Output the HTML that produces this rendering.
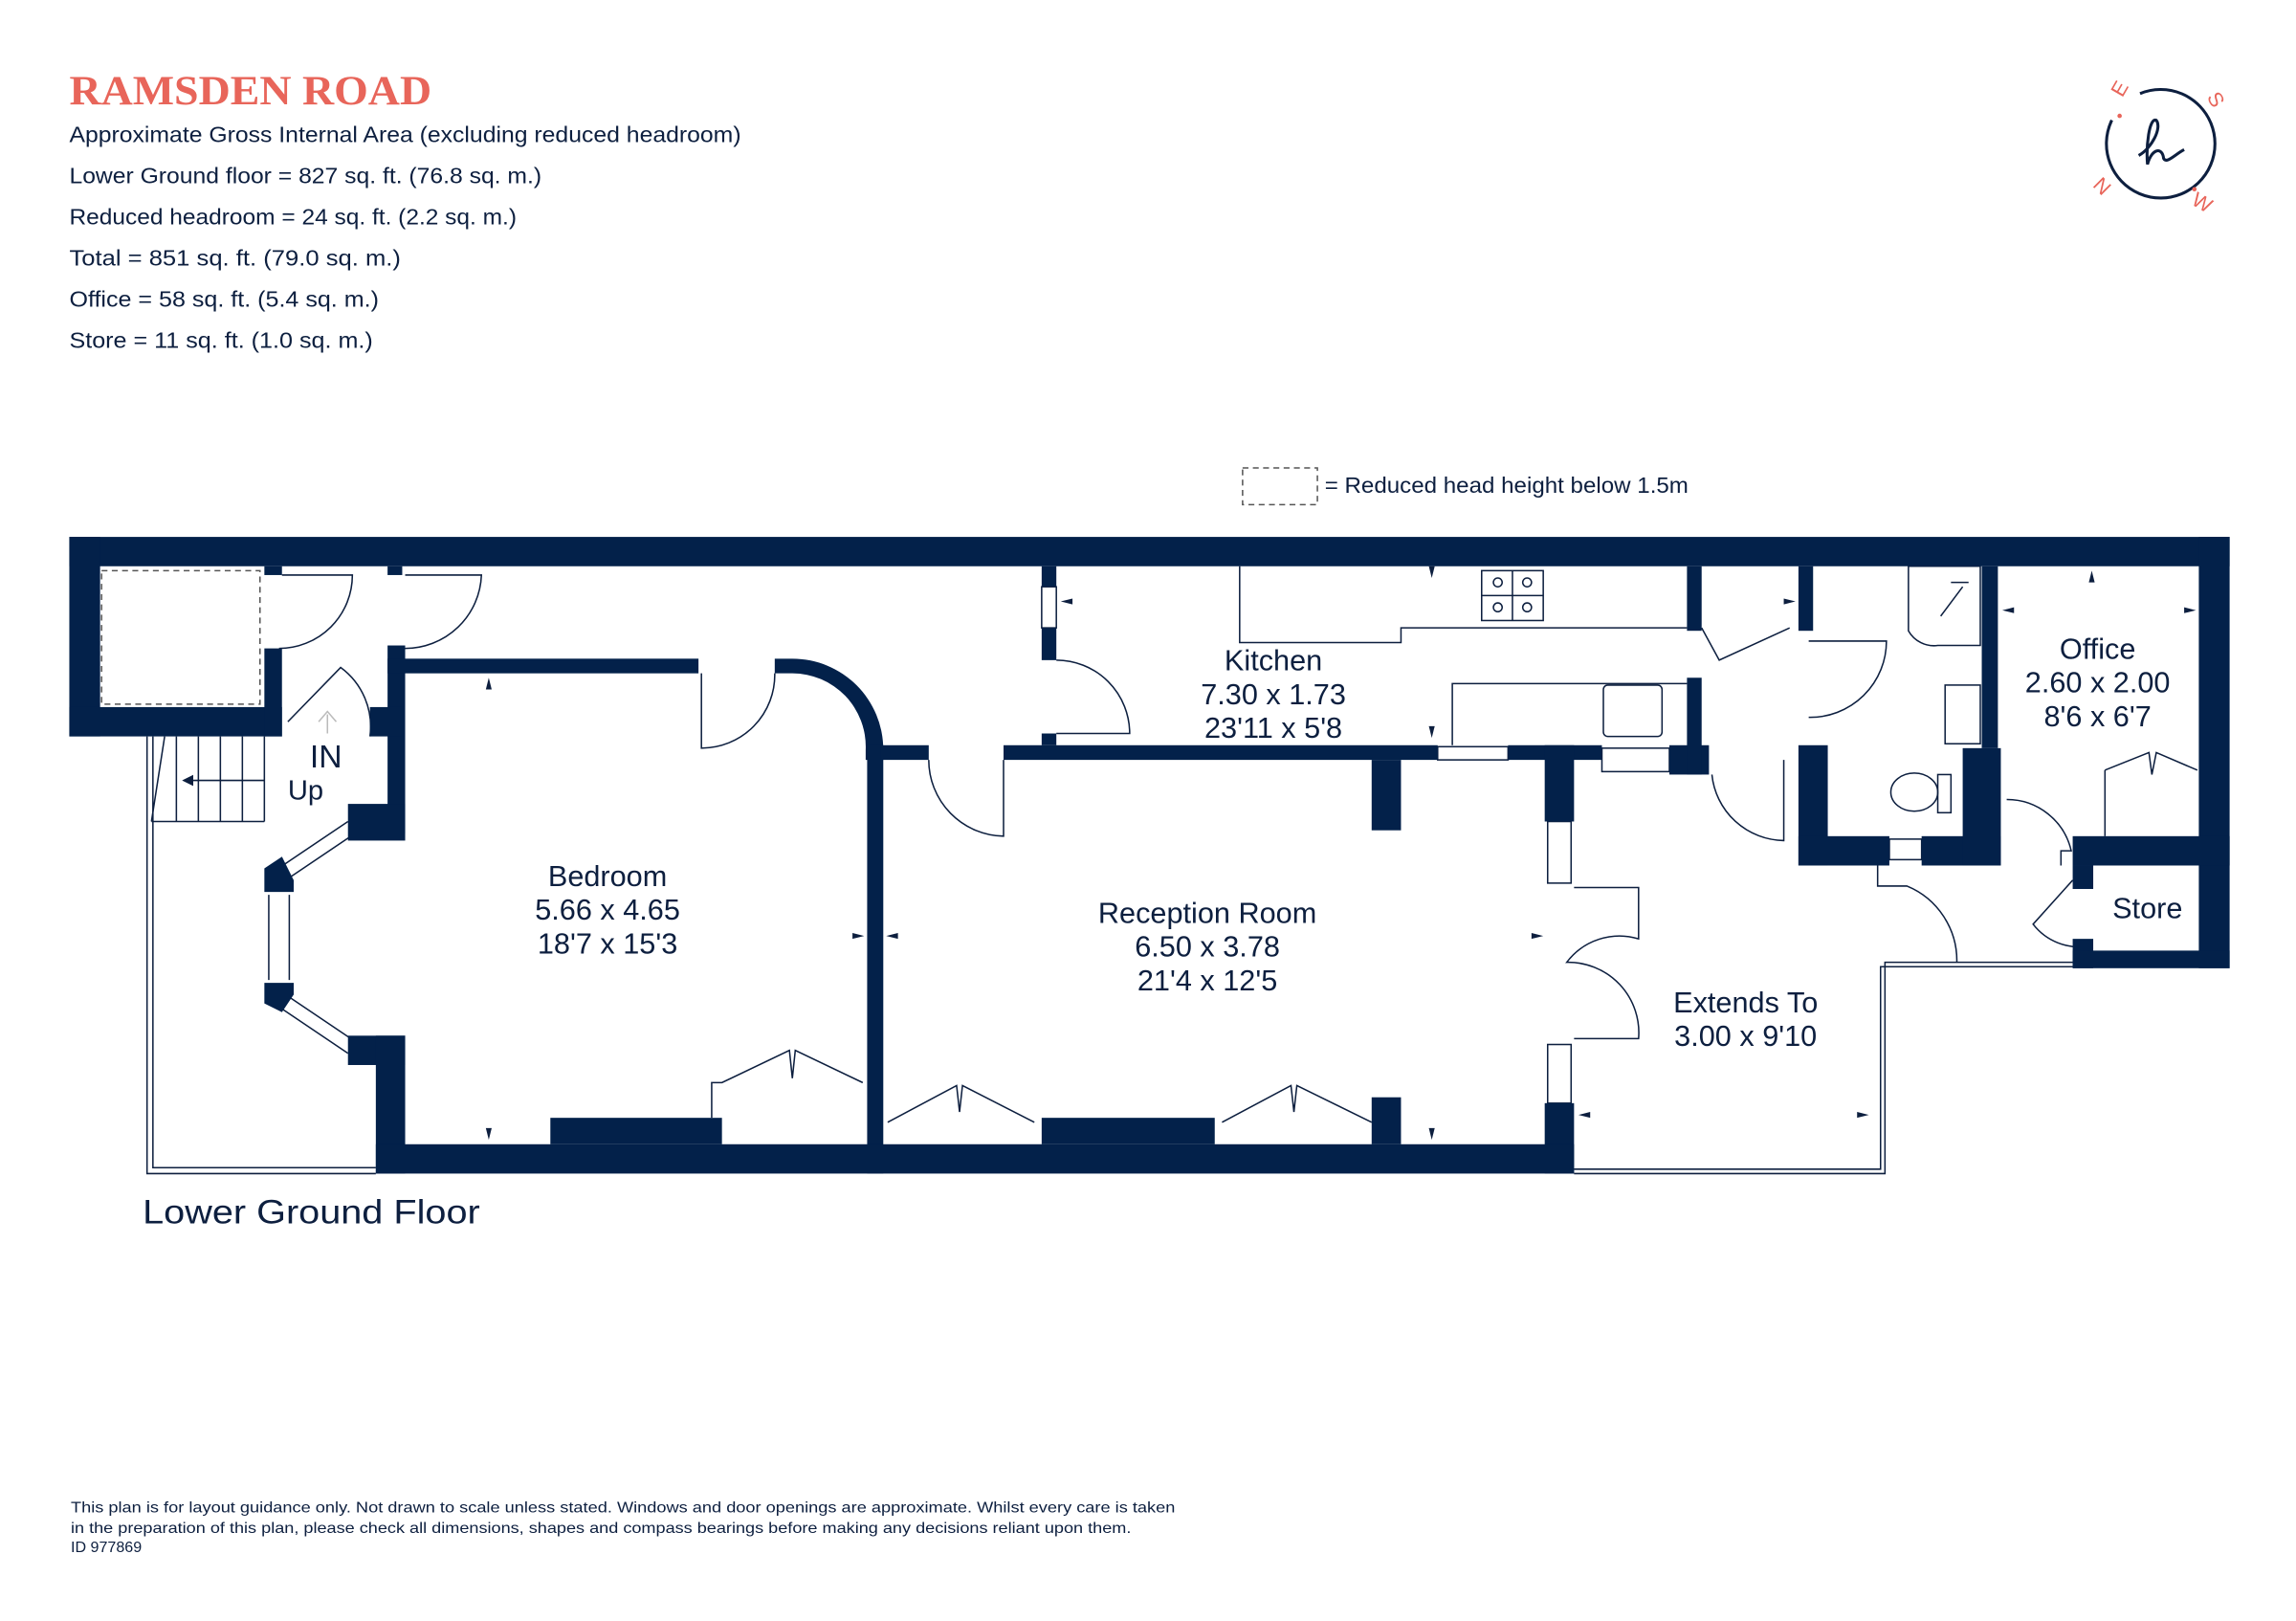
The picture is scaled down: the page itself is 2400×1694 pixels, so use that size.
<!DOCTYPE html>
<html><head><meta charset="utf-8"><style>
html,body{margin:0;padding:0;background:#fff;}
svg{display:block;}
text{font-family:"Liberation Sans",sans-serif;fill:#0d1f3f;}
</style></head><body>
<svg width="2400" height="1694" viewBox="0 0 1565 1105" xmlns="http://www.w3.org/2000/svg">
<rect width="1565" height="1105" fill="#fff"/>
<!-- header -->
<text x="47" y="71" textLength="247" lengthAdjust="spacingAndGlyphs" style="font-family:'Liberation Serif',serif;font-weight:bold;font-size:28px;fill:#e8655a">RAMSDEN ROAD</text>
<g font-size="15">
<text x="47" y="97" textLength="458" lengthAdjust="spacingAndGlyphs">Approximate Gross Internal Area  (excluding reduced headroom)</text>
<text x="47" y="125" textLength="322" lengthAdjust="spacingAndGlyphs">Lower Ground floor = 827 sq. ft. (76.8 sq. m.)</text>
<text x="47" y="153" textLength="305" lengthAdjust="spacingAndGlyphs">Reduced headroom = 24 sq. ft. (2.2 sq. m.)</text>
<text x="47" y="181" textLength="226" lengthAdjust="spacingAndGlyphs">Total =  851 sq. ft. (79.0 sq. m.)</text>
<text x="47" y="209" textLength="211" lengthAdjust="spacingAndGlyphs">Office =  58 sq. ft. (5.4 sq. m.)</text>
<text x="47" y="237" textLength="207" lengthAdjust="spacingAndGlyphs">Store =  11 sq. ft. (1.0 sq. m.)</text>
</g>
<!-- logo -->
<circle cx="1473" cy="98" r="37" fill="none" stroke="#0d1f3f" stroke-width="2" stroke-dasharray="205 27" transform="rotate(-112 1473 98)"/>
<path d="M1458 106 C1467 101 1474 87 1470 82 C1465 80 1463 100 1464 112 C1467 101 1474 100 1475 108 C1477 112 1483 105 1489 102" fill="none" stroke="#0d1f3f" stroke-width="2"/>
<g font-size="14">
<text x="1440" y="65" transform="rotate(-60 1445 60)" style="fill:#e8655a">E</text>
<text x="1506" y="73" transform="rotate(60 1511 68)" style="fill:#e8655a">S</text>
<text x="1428" y="132" transform="rotate(-135 1433 127)" style="fill:#e8655a">N</text>
<text x="1495" y="142" transform="rotate(30 1500 137)" style="fill:#e8655a">W</text>
</g>
<circle cx="1445" cy="79" r="1.5" fill="#e8655a"/><circle cx="1496" cy="129" r="1.5" fill="#e8655a"/>
<!-- legend -->
<rect x="847" y="319" width="51" height="25" fill="none" stroke="#555" stroke-width="1" stroke-dasharray="4 3"/>
<text x="903" y="336" font-size="15" textLength="248" lengthAdjust="spacingAndGlyphs">= Reduced head height below 1.5m</text>

<!-- thin outlines -->
<g fill="none" stroke="#0d1f3f" stroke-width="1">
<path d="M100 502 V800 H256"/><path d="M104 502 V796 H256"/>
<path d="M1073 800 H1285 V656 H1413"/><path d="M1073 797 H1282 V659 H1413"/>
<rect x="69" y="389" width="108" height="91" stroke-dasharray="4 3" stroke="#555"/>
<!-- stairs -->
<path d="M103 560 H180 M120 502 V560 M135 502 V560 M150 502 V560 M165 502 V560 M180 502 V560 M112 502 L103 560"/>
<path d="M180 532 H125"/><path d="M125 532 l6 -3 v6z" fill="#0d1f3f"/>
<!-- doors -->
<path d="M192 392 H240 A50 50 0 0 1 190 442"/>
<path d="M276 392 H328 A52 52 0 0 1 276 442"/>
<path d="M196 492 L232 455 A50 50 0 0 1 252 502"/>
<path d="M478 459 V510 A50 50 0 0 0 528 459"/>
<path d="M720 500 H770 A50 50 0 0 0 720 450"/>
<path d="M684 518 V570 A52 52 0 0 1 633 518"/>
<path d="M1160 428 L1172 450 L1220 428"/>
<path d="M1233 437 H1286 A52 52 0 0 1 1233 489"/>
<path d="M1167 528 A50 50 0 0 0 1216 573 V518"/>
<path d="M1073 605 H1117 V640 A45 45 0 0 0 1068 656 A48 48 0 0 1 1117 708 H1073"/>
<path d="M1280 590 V604 H1300 A55 55 0 0 1 1334 656"/>
<path d="M1368 545 A45 45 0 0 1 1412 580 H1405 V590"/>
<path d="M1413 600 L1386 630 A40 40 0 0 0 1424 645"/>
<!-- wardrobes -->
<path d="M485 762 V738 H492 L538 716 L540 735 M540 735 L542 716 L588 738"/>
<path d="M605 765 L652 740 L654 758 M654 758 L656 740 L705 765"/>
<path d="M833 765 L880 740 L882 758 M882 758 L884 740 L935 765"/>
<path d="M1435 525 L1465 513 L1467 528 L1470 513 L1498 525"/>
<path d="M1435 525 V570"/>
<!-- kitchen units -->
<path d="M845 386 V438 H955 V428 H1150"/>
<path d="M990 508 V466 H1150"/>
<rect x="1010" y="389" width="42" height="34"/>
<circle cx="1021" cy="397" r="3"/><circle cx="1041" cy="397" r="3"/><circle cx="1021" cy="414" r="3"/><circle cx="1041" cy="414" r="3"/>
<path d="M1031 389 V423 M1010 406 H1052"/>
<rect x="1093" y="467" width="40" height="35" rx="3"/>
<!-- bathroom -->
<path d="M1301 386 V430 A20 20 0 0 0 1321 440 H1350 V386 Z"/>
<path d="M1338 400 L1323 420 M1330 397 H1342"/>
<rect x="1326" y="467" width="24" height="40"/>
<ellipse cx="1305" cy="540" rx="16" ry="13"/><rect x="1321" y="528" width="9" height="26"/>
<!-- windows -->
<rect x="710" y="400" width="10" height="28"/><rect x="980" y="509" width="48" height="9"/>
<rect x="1092" y="510" width="46" height="16"/><rect x="1055" y="560" width="16" height="42"/>
<rect x="1055" y="712" width="16" height="40"/><rect x="1288" y="572" width="22" height="14"/>
<path d="M188 593 L237 560 M193 601 L242 568"/>
<path d="M183 610 V668 M197 610 V668"/>
<path d="M188 685 L237 718 M193 677 L242 710"/>
</g>
<!-- IN arrow -->
<path d="M223 500 V487 M217 492 L223 485 L229 492" fill="none" stroke="#bbb" stroke-width="1"/>

<!-- walls -->
<g fill="#03214a">
<rect x="47" y="366" width="1473" height="20"/>
<rect x="47" y="366" width="21" height="136"/>
<rect x="47" y="482" width="145" height="20"/>
<rect x="180" y="442" width="12" height="60"/>
<rect x="180" y="386" width="12" height="6"/>
<rect x="264" y="386" width="10" height="6"/>
<rect x="264" y="440" width="12" height="128"/>
<rect x="252" y="482" width="22" height="20"/>
<rect x="237" y="548" width="39" height="25"/>
<polygon points="180,592 192,584 200,600 200,608 180,608"/>
<polygon points="180,670 200,670 200,678 192,690 180,684"/>
<rect x="237" y="706" width="39" height="20"/>
<rect x="256" y="706" width="20" height="94"/>
<rect x="264" y="449" width="212" height="10"/>
<path d="M528 449 H540 A62 62 0 0 1 602 511 V518 H590 V511 A50 50 0 0 0 540 459 H528 Z"/>
<rect x="591" y="508" width="11" height="292"/>
<rect x="600" y="508" width="33" height="10"/>
<rect x="684" y="508" width="296" height="10"/>
<rect x="1028" y="508" width="64" height="10"/>
<rect x="1138" y="508" width="27" height="20"/>
<rect x="710" y="386" width="10" height="14"/><rect x="710" y="428" width="10" height="22"/><rect x="710" y="500" width="10" height="8"/>
<rect x="935" y="518" width="20" height="48"/>
<rect x="1053" y="508" width="20" height="52"/>
<rect x="1053" y="752" width="20" height="48"/>
<rect x="256" y="780" width="817" height="20"/>
<rect x="375" y="762" width="117" height="18"/>
<rect x="710" y="762" width="118" height="18"/>
<rect x="935" y="748" width="20" height="32"/>
<rect x="1150" y="386" width="10" height="44"/><rect x="1150" y="462" width="10" height="66"/>
<rect x="1226" y="386" width="10" height="44"/>
<rect x="1226" y="508" width="20" height="82"/>
<rect x="1226" y="570" width="62" height="20"/><rect x="1310" y="570" width="54" height="20"/>
<rect x="1338" y="510" width="26" height="80"/>
<rect x="1351" y="386" width="11" height="124"/>
<rect x="1499" y="366" width="21" height="294"/>
<rect x="1413" y="570" width="107" height="20"/>
<rect x="1413" y="590" width="14" height="16"/>
<rect x="1413" y="640" width="14" height="20"/>
<rect x="1413" y="648" width="107" height="12"/>
</g>
<!-- small arrow markers -->
<g fill="#0d1f3f">
<path d="M333 462 l2 8 h-4z"/><path d="M333 777 l2 -8 h-4z"/>
<path d="M589 638 l-8 2 v-4z"/><path d="M604 638 l8 2 v-4z"/>
<path d="M976 394 l2 -8 h-4z"/><path d="M976 777 l2 -8 h-4z"/>
<path d="M1052 638 l-8 2 v-4z"/><path d="M1076 760 l8 2 v-4z"/>
<path d="M1274 760 l-8 2 v-4z"/><path d="M723 410 l8 2 v-4z"/>
<path d="M1224 410 l-8 2 v-4z"/><path d="M1426 389 l2 8 h-4z"/>
<path d="M1365 416 l8 2 v-4z"/><path d="M1497 416 l-8 2 v-4z"/>
<path d="M976 503 l2 -8 h-4z"/>
</g>

<!-- room labels -->
<g font-size="20" text-anchor="middle">
<text x="414" y="604">Bedroom</text><text x="414" y="627">5.66 x 4.65</text><text x="414" y="650">18'7 x 15'3</text>
<text x="823" y="629">Reception Room</text><text x="823" y="652">6.50 x 3.78</text><text x="823" y="675">21'4 x 12'5</text>
<text x="868" y="457">Kitchen</text><text x="868" y="480">7.30 x 1.73</text><text x="868" y="503">23'11 x 5'8</text>
<text x="1430" y="449">Office</text><text x="1430" y="472">2.60 x 2.00</text><text x="1430" y="495">8'6 x 6'7</text>
<text x="1190" y="690">Extends To</text><text x="1190" y="713">3.00 x 9'10</text>
<text x="1464" y="626">Store</text>
</g>
<text x="211" y="523" font-size="22">IN</text>
<text x="196" y="545" font-size="19">Up</text>
<text x="97" y="834" font-size="23" textLength="230" lengthAdjust="spacingAndGlyphs">Lower Ground Floor</text>
<g font-size="10.5">
<text x="48" y="1031" textLength="753" lengthAdjust="spacingAndGlyphs">This plan is for layout guidance only. Not drawn to scale unless stated. Windows and door openings are approximate. Whilst every care is taken</text>
<text x="48" y="1045" textLength="723" lengthAdjust="spacingAndGlyphs">in the preparation of this plan, please check all dimensions, shapes and compass bearings before making any decisions reliant upon them.</text>
<text x="48" y="1058">ID 977869</text>
</g>
</svg>
</body></html>
